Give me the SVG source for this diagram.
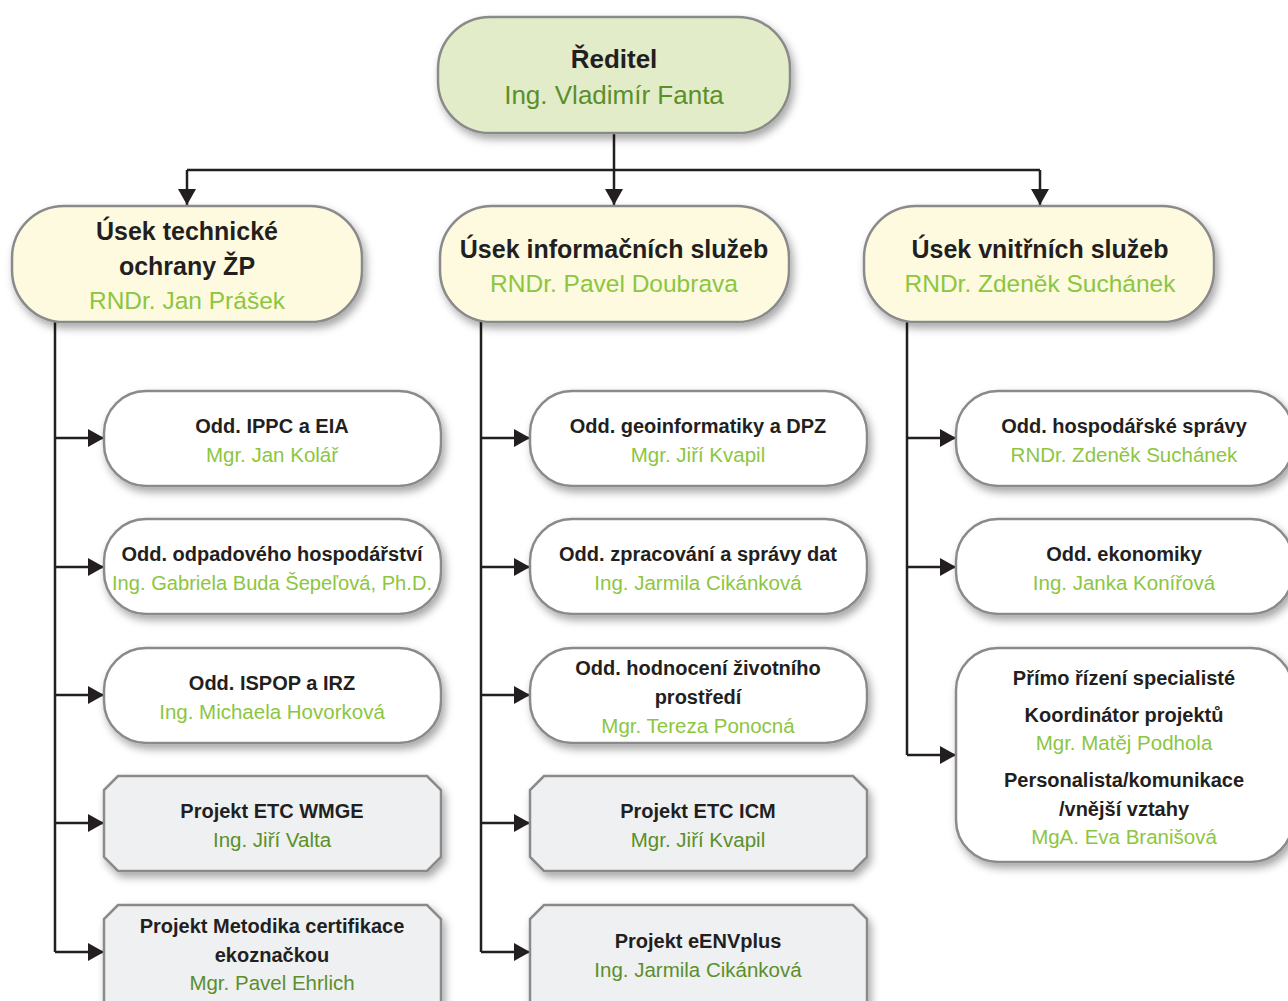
<svg xmlns="http://www.w3.org/2000/svg" width="1288" height="1001" viewBox="0 0 1288 1001">
<defs>
<filter id="sh" x="-10%" y="-10%" width="125%" height="135%">
<feDropShadow dx="3" dy="5" stdDeviation="4" flood-color="#000" flood-opacity="0.35"/>
</filter>
<marker id="ah" markerWidth="16" markerHeight="18" viewBox="0 0 16 18" refX="16" refY="9" orient="auto" markerUnits="userSpaceOnUse">
<path d="M0,0 L16,9 L0,18 Z" fill="#231f20"/>
</marker>
<style>
.box{stroke:#8a8a8a;stroke-width:2.5;filter:url(#sh)}
.top{fill:#e2ecc9}
.div{fill:#fdfae0}
.dep{fill:#ffffff}
.prj{fill:#eef0f2}
.t{font-family:"Liberation Sans","DejaVu Sans",sans-serif;text-anchor:middle}
.h0{font-size:26px;font-weight:bold;fill:#231f20}
.h1{font-size:25px;font-weight:bold;fill:#231f20}
.n1{font-size:26px;fill:#5b8f2a}
.n1l{font-size:24.5px;fill:#8cc63f}
.h2{font-size:20px;font-weight:bold;fill:#231f20}
.n2{font-size:20.5px;fill:#8cc63f}
.n2d{font-size:20.5px;fill:#5b8f2a}
.ln{fill:none;stroke:#231f20;stroke-width:2.5}
</style>
</defs>
<rect width="1288" height="1001" fill="#ffffff"/>

<g id="connectors">
<path class="ln" d="M614,133 V170 M187,170 H1040"/>
<path class="ln" d="M187,170 V205" marker-end="url(#ah)"/>
<path class="ln" d="M614,170 V205" marker-end="url(#ah)"/>
<path class="ln" d="M1040,170 V205" marker-end="url(#ah)"/>
<path class="ln" d="M55,322 V952"/>
<path class="ln" d="M55,438 H104" marker-end="url(#ah)"/>
<path class="ln" d="M55,567 H104" marker-end="url(#ah)"/>
<path class="ln" d="M55,695 H104" marker-end="url(#ah)"/>
<path class="ln" d="M55,823 H104" marker-end="url(#ah)"/>
<path class="ln" d="M55,952 H104" marker-end="url(#ah)"/>
<path class="ln" d="M481,322 V952"/>
<path class="ln" d="M481,438 H530" marker-end="url(#ah)"/>
<path class="ln" d="M481,567 H530" marker-end="url(#ah)"/>
<path class="ln" d="M481,695 H530" marker-end="url(#ah)"/>
<path class="ln" d="M481,823 H530" marker-end="url(#ah)"/>
<path class="ln" d="M481,952 H530" marker-end="url(#ah)"/>
<path class="ln" d="M907,322 V755"/>
<path class="ln" d="M907,438 H956" marker-end="url(#ah)"/>
<path class="ln" d="M907,567 H956" marker-end="url(#ah)"/>
<path class="ln" d="M907,755 H956" marker-end="url(#ah)"/>
</g>

<g id="reditel">
<rect class="box top" x="438" y="17" width="352" height="116" rx="52" ry="52"/>
<text class="t h0" x="614" y="68">Ředitel</text>
<text class="t n1" x="614" y="104">Ing. Vladimír Fanta</text>
</g>

<g id="usek-technicke">
<rect class="box div" x="12" y="206" width="350" height="116" rx="52" ry="52"/>
<text class="t h1" x="187" y="240">Úsek technické</text>
<text class="t h1" x="187" y="275">ochrany ŽP</text>
<text class="t n1l" x="187" y="309">RNDr. Jan Prášek</text>
</g>

<g id="usek-informacnich">
<rect class="box div" x="440" y="206" width="349" height="116" rx="52" ry="52"/>
<text class="t h1" x="614" y="258">Úsek informačních služeb</text>
<text class="t n1l" x="614" y="292">RNDr. Pavel Doubrava</text>
</g>

<g id="usek-vnitrnich">
<rect class="box div" x="864" y="206" width="350" height="116" rx="52" ry="52"/>
<text class="t h1" x="1040" y="258">Úsek vnitřních služeb</text>
<text class="t n1l" x="1040" y="292">RNDr. Zdeněk Suchánek</text>
</g>

<g id="odd-ippc">
<rect class="box dep" x="104" y="391" width="337" height="95" rx="42" ry="42"/>
<text class="t h2" x="272" y="433">Odd. IPPC a EIA</text>
<text class="t n2" x="272" y="462">Mgr. Jan Kolář</text>
</g>
<g id="odd-odpadoveho">
<rect class="box dep" x="104" y="519" width="337" height="95" rx="42" ry="42"/>
<text class="t h2" x="272" y="561">Odd. odpadového hospodářství</text>
<text class="t n2" x="272" y="590" textLength="320" lengthAdjust="spacingAndGlyphs">Ing. Gabriela Buda Šepeľová, Ph.D.</text>
</g>
<g id="odd-ispop">
<rect class="box dep" x="104" y="648" width="337" height="95" rx="42" ry="42"/>
<text class="t h2" x="272" y="690">Odd. ISPOP a IRZ</text>
<text class="t n2" x="272" y="719">Ing. Michaela Hovorková</text>
</g>
<g id="projekt-wmge">
<path class="box prj" d="M118,776 H427 L441,790 V857 L427,871 H118 L104,857 V790 Z"/>
<text class="t h2" x="272" y="818">Projekt ETC WMGE</text>
<text class="t n2d" x="272" y="847">Ing. Jiří Valta</text>
</g>
<g id="projekt-metodika">
<path class="box prj" d="M118,905 H427 L441,919 V1010 H104 V919 Z"/>
<text class="t h2" x="272" y="933">Projekt Metodika certifikace</text>
<text class="t h2" x="272" y="962">ekoznačkou</text>
<text class="t n2d" x="272" y="990">Mgr. Pavel Ehrlich</text>
</g>

<g id="odd-geoinformatiky">
<rect class="box dep" x="530" y="391" width="337" height="95" rx="42" ry="42"/>
<text class="t h2" x="698" y="433">Odd. geoinformatiky a DPZ</text>
<text class="t n2" x="698" y="462">Mgr. Jiří Kvapil</text>
</g>
<g id="odd-zpracovani">
<rect class="box dep" x="530" y="519" width="337" height="95" rx="42" ry="42"/>
<text class="t h2" x="698" y="561">Odd. zpracování a správy dat</text>
<text class="t n2" x="698" y="590">Ing. Jarmila Cikánková</text>
</g>
<g id="odd-hodnoceni">
<rect class="box dep" x="530" y="648" width="337" height="95" rx="42" ry="42"/>
<text class="t h2" x="698" y="675">Odd. hodnocení životního</text>
<text class="t h2" x="698" y="704">prostředí</text>
<text class="t n2" x="698" y="733">Mgr. Tereza Ponocná</text>
</g>
<g id="projekt-icm">
<path class="box prj" d="M544,776 H853 L867,790 V857 L853,871 H544 L530,857 V790 Z"/>
<text class="t h2" x="698" y="818">Projekt ETC ICM</text>
<text class="t n2d" x="698" y="847">Mgr. Jiří Kvapil</text>
</g>
<g id="projekt-eenvplus">
<path class="box prj" d="M544,905 H853 L867,919 V1010 H530 V919 Z"/>
<text class="t h2" x="698" y="948">Projekt eENVplus</text>
<text class="t n2d" x="698" y="977">Ing. Jarmila Cikánková</text>
</g>

<g id="odd-hospodarske">
<rect class="box dep" x="956" y="391" width="337" height="95" rx="42" ry="42"/>
<text class="t h2" x="1124" y="433">Odd. hospodářské správy</text>
<text class="t n2" x="1124" y="462">RNDr. Zdeněk Suchánek</text>
</g>
<g id="odd-ekonomiky">
<rect class="box dep" x="956" y="519" width="337" height="95" rx="42" ry="42"/>
<text class="t h2" x="1124" y="561">Odd. ekonomiky</text>
<text class="t n2" x="1124" y="590">Ing. Janka Konířová</text>
</g>
<g id="specialiste">
<rect class="box dep" x="956" y="648" width="337" height="214" rx="42" ry="42"/>
<text class="t h2" x="1124" y="685">Přímo řízení specialisté</text>
<text class="t h2" x="1124" y="722">Koordinátor projektů</text>
<text class="t n2" x="1124" y="750">Mgr. Matěj Podhola</text>
<text class="t h2" x="1124" y="787">Personalista/komunikace</text>
<text class="t h2" x="1124" y="816">/vnější vztahy</text>
<text class="t n2" x="1124" y="844">MgA. Eva Branišová</text>
</g>
</svg>
